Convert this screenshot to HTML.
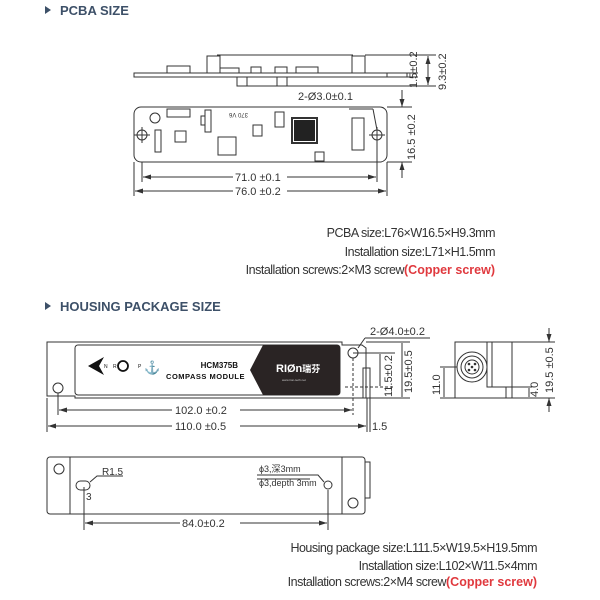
<!DOCTYPE html>
<html><head><meta charset="utf-8"><style>
body{margin:0;background:#fff;width:600px;height:600px;overflow:hidden}
svg{display:block}
.t{font-family:"Liberation Sans",sans-serif}
</style></head><body>
<svg width="600" height="600" viewBox="0 0 600 600" class="t">
<defs>
<marker id="a" markerWidth="8" markerHeight="6" refX="8" refY="3" orient="auto-start-reverse"><path d="M0,0.5 L8,3 L0,5.5z" fill="#333"/></marker>
</defs>
<path d="M45,6 L51,10 L45,14z" fill="#3d5068"/>
<text x="60" y="15" font-size="13" font-weight="bold" fill="#3d5068">PCBA SIZE</text>
<path d="M45,302 L51,306 L45,310z" fill="#3d5068"/>
<text x="60" y="311" font-size="13" font-weight="bold" fill="#3d5068">HOUSING PACKAGE SIZE</text>

<g fill="none" stroke="#333" stroke-width="1">
<!-- PCBA side -->
<rect x="134" y="73" width="253" height="4"/>
<rect x="387" y="73" width="20" height="4"/>
<rect x="167" y="66" width="23" height="7"/>
<rect x="207" y="56" width="13" height="17"/>
<line x1="217" y1="55" x2="353" y2="55"/>
<rect x="220" y="68" width="19" height="5"/>
<rect x="251" y="67" width="10" height="6"/>
<rect x="275" y="67" width="12" height="6"/>
<rect x="296" y="67" width="22" height="6"/>
<rect x="352" y="56" width="13" height="17"/>
<rect x="237" y="77" width="50" height="9"/>
<line x1="247" y1="77" x2="247" y2="86"/><line x1="277" y1="77" x2="277" y2="86"/>
<line x1="407" y1="73" x2="418" y2="73"/><line x1="407" y1="77" x2="418" y2="77"/>
<line x1="365" y1="55" x2="436" y2="55"/><line x1="287" y1="86" x2="436" y2="86"/>
<line x1="428" y1="56" x2="428" y2="85" marker-start="url(#a)" marker-end="url(#a)"/>
<!-- PCBA top -->
<rect x="134" y="107" width="253" height="55" rx="7"/>
<circle cx="142" cy="135" r="5"/><line x1="134" y1="135" x2="150" y2="135"/><line x1="142" y1="127" x2="142" y2="143"/>
<circle cx="377" cy="135" r="5"/><line x1="369" y1="135" x2="385" y2="135"/><line x1="377" y1="127" x2="377" y2="143"/>
<circle cx="155" cy="118" r="5"/>
<rect x="167" y="109" width="23" height="8"/>
<rect x="155" y="130" width="6" height="22"/>
<rect x="175" y="131" width="11" height="11"/>
<rect x="205" y="110" width="6" height="22"/><rect x="201" y="116" width="4" height="9"/>
<rect x="218" y="137" width="18" height="18"/>
<rect x="253" y="125" width="9" height="11"/>
<rect x="275" y="112" width="9" height="15"/>
<rect x="292" y="118" width="25" height="25" stroke-width="2"/>
<rect x="352" y="118" width="12" height="32"/>
<rect x="315" y="152" width="9" height="9"/>
<line x1="349" y1="109" x2="373" y2="109"/><line x1="373" y1="109" x2="377" y2="130"/>
<line x1="142" y1="162" x2="142" y2="182"/><line x1="377" y1="140" x2="377" y2="182"/>
<line x1="134" y1="162" x2="134" y2="196"/><line x1="387" y1="162" x2="387" y2="196"/>
<line x1="143" y1="177" x2="233" y2="177" marker-start="url(#a)"/><line x1="287" y1="177" x2="376" y2="177" marker-end="url(#a)"/>
<line x1="135" y1="191" x2="233" y2="191" marker-start="url(#a)"/><line x1="287" y1="191" x2="386" y2="191" marker-end="url(#a)"/>
<line x1="387" y1="107" x2="412" y2="107"/><line x1="387" y1="162" x2="412" y2="162"/>
<line x1="402" y1="90" x2="402" y2="107" marker-end="url(#a)"/>
<line x1="402" y1="178" x2="402" y2="162" marker-end="url(#a)"/>
</g>
<g fill="#333" font-size="11">
<text x="298" y="100">2-Ø3.0±0.1</text>
<text x="235" y="181">71.0 ±0.1</text>
<text x="235" y="195">76.0 ±0.2</text>
<text transform="translate(417,88) rotate(-90)">1.5±0.2</text>
<text transform="translate(446,90) rotate(-90)">9.3±0.2</text>
<text transform="translate(415,160) rotate(-90)">16.5 ±0.2</text>
<text x="232" y="119" font-size="6" transform="rotate(180 240 116)">370 V6</text>
</g>
<rect x="294" y="120" width="21" height="21" fill="#222"/>
<g fill="#333" font-size="12.5" text-anchor="end" letter-spacing="-0.5">
<text x="495" y="237">PCBA size:L76×W16.5×H9.3mm</text>
<text x="495" y="256">Installation size:L71×H1.5mm</text>
<text x="495" y="274">Installation screws:2×M3 screw<tspan fill="#e0393e" font-weight="bold" letter-spacing="0">(Copper screw)</tspan></text>
<text x="537" y="552">Housing package size:L111.5×W19.5×H19.5mm</text>
<text x="537" y="570">Installation size:L102×W11.5×4mm</text>
<text x="537" y="586">Installation screws:2×M4 screw<tspan fill="#e0393e" font-weight="bold" letter-spacing="0">(Copper screw)</tspan></text>
</g>

<!-- housing front -->
<g fill="none" stroke="#333" stroke-width="1">
<path d="M47,342 L342,342 L342,345 L362,345 L366,348 L366,398 L75,398 L75,396 L47,396 Z"/>
<rect x="75" y="345" width="265" height="50" rx="3"/>
<circle cx="58" cy="388" r="5"/><circle cx="353" cy="353" r="5"/>
<rect x="363" y="368" width="7" height="30"/>
<line x1="353" y1="353" x2="395" y2="353"/><line x1="345" y1="387" x2="395" y2="387" stroke-dasharray="3,2"/>
<line x1="353" y1="358" x2="353" y2="415" stroke-dasharray="3,2"/>
<line x1="358" y1="348" x2="365" y2="338"/><line x1="365" y1="338" x2="430" y2="338"/>
<line x1="58" y1="393" x2="58" y2="415"/><line x1="47" y1="398" x2="47" y2="432"/><line x1="367" y1="398" x2="367" y2="432"/><line x1="370" y1="398" x2="370" y2="432"/>
<line x1="59" y1="410" x2="172" y2="410" marker-start="url(#a)"/><line x1="240" y1="410" x2="352" y2="410" marker-end="url(#a)"/>
<line x1="48" y1="426" x2="172" y2="426" marker-start="url(#a)"/><line x1="240" y1="426" x2="366" y2="426" marker-end="url(#a)"/>
<line x1="380" y1="354" x2="380" y2="386"/>
<line x1="366" y1="342" x2="410" y2="342"/><line x1="366" y1="398" x2="410" y2="398"/>
<line x1="402" y1="343" x2="402" y2="397"/>
</g>
<path d="M263,345 L337,345 Q340,345 340,348 L340,392 Q340,395 337,395 L263,395 L250,370 Z" fill="#2a2424"/>
<path d="M88,366 L104,357 L99,366 L104,375 Z" fill="#111"/>
<text x="104" y="368" font-size="5" fill="#111">N</text>
<text x="113" y="368" font-size="5" fill="#111">R</text>
<circle cx="123" cy="366" r="5" fill="none" stroke="#111" stroke-width="1.8"/>
<text x="138" y="368" font-size="5" fill="#111">P</text>
<text x="144" y="372" font-size="13" fill="#111">⚓</text>
<text x="238" y="368" font-size="8" font-weight="bold" fill="#111" text-anchor="end">HCM375B</text>
<text x="245" y="379" font-size="7.5" font-weight="bold" fill="#111" text-anchor="end" letter-spacing="0.5">COMPASS MODULE</text>
<text x="276" y="372" font-size="11" font-weight="bold" fill="#fff">RIØn<tspan font-family="Noto Sans CJK SC,sans-serif" font-size="9">瑞芬</tspan></text>
<text x="282" y="381" font-size="3" fill="#ccc">www.rion-tech.net</text>
<g fill="#333" font-size="11">
<text x="370" y="335">2-Ø4.0±0.2</text>
<text x="175" y="414">102.0 ±0.2</text>
<text x="175" y="430">110.0 ±0.5</text>
<text x="372" y="430">1.5</text>
<text transform="translate(392,397) rotate(-90)">11.5±0.2</text>
<text transform="translate(412,393) rotate(-90)">19.5±0.5</text>
</g>
<!-- end view -->
<g fill="none" stroke="#333" stroke-width="1">
<rect x="455" y="342" width="57" height="56"/>
<rect x="487" y="342" width="25" height="45"/>
<line x1="492" y1="342" x2="492" y2="387"/>
<line x1="506" y1="387" x2="506" y2="398"/><line x1="512" y1="387" x2="532" y2="387"/>
<circle cx="472" cy="367" r="15"/><circle cx="472" cy="367" r="11"/><circle cx="472" cy="367" r="7"/>
<line x1="440" y1="367" x2="457" y2="367"/><line x1="440" y1="398" x2="455" y2="398"/>
<line x1="444" y1="368" x2="444" y2="397"/>
<line x1="512" y1="342" x2="555" y2="342"/><line x1="512" y1="398" x2="555" y2="398"/>
<line x1="529" y1="388" x2="529" y2="397"/>
<line x1="549" y1="328" x2="549" y2="342" marker-end="url(#a)"/>
<line x1="549" y1="412" x2="549" y2="398" marker-end="url(#a)"/>
</g>
<g fill="#333"><circle cx="469" cy="364" r="1.3"/><circle cx="475" cy="364" r="1.3"/><circle cx="469" cy="370" r="1.3"/><circle cx="475" cy="370" r="1.3"/><circle cx="472" cy="367" r="1.3"/></g>
<g fill="#333" font-size="11">
<text transform="translate(440,395) rotate(-90)">11.0</text>
<text transform="translate(538,397) rotate(-90)">4.0</text>
<text transform="translate(553,393) rotate(-90)">19.5 ±0.5</text>
</g>
<!-- bottom view -->
<g fill="none" stroke="#333" stroke-width="1">
<rect x="47" y="457" width="318" height="57" rx="3"/>
<line x1="70" y1="457" x2="70" y2="514"/><line x1="342" y1="457" x2="342" y2="514"/>
<rect x="365" y="462" width="5" height="36"/>
<circle cx="59" cy="469" r="5"/><circle cx="353" cy="503" r="5"/>
<rect x="76" y="481" width="14" height="9" rx="4.5"/>
<circle cx="328" cy="485" r="4"/>
<path d="M90,482 L97,476 L123,476"/>
<path d="M257,475 L318,475 L324,482"/><line x1="257" y1="479" x2="310" y2="479"/>
<line x1="84" y1="487" x2="84" y2="530"/><line x1="328" y1="490" x2="328" y2="530"/>
<line x1="85" y1="523" x2="180" y2="523" marker-start="url(#a)"/><line x1="240" y1="523" x2="327" y2="523" marker-end="url(#a)"/>
</g>
<g fill="#333" font-size="10">
<text x="102" y="475">R1.5</text>
<text x="86" y="500">3</text>
<text x="259" y="472" font-size="9">ϕ3,<tspan font-family="Noto Sans CJK SC,sans-serif">深</tspan>3mm</text>
<text x="259" y="486" font-size="9">ϕ3,depth 3mm</text>
<text x="182" y="527" font-size="11">84.0±0.2</text>
</g>
</svg>
</body></html>
